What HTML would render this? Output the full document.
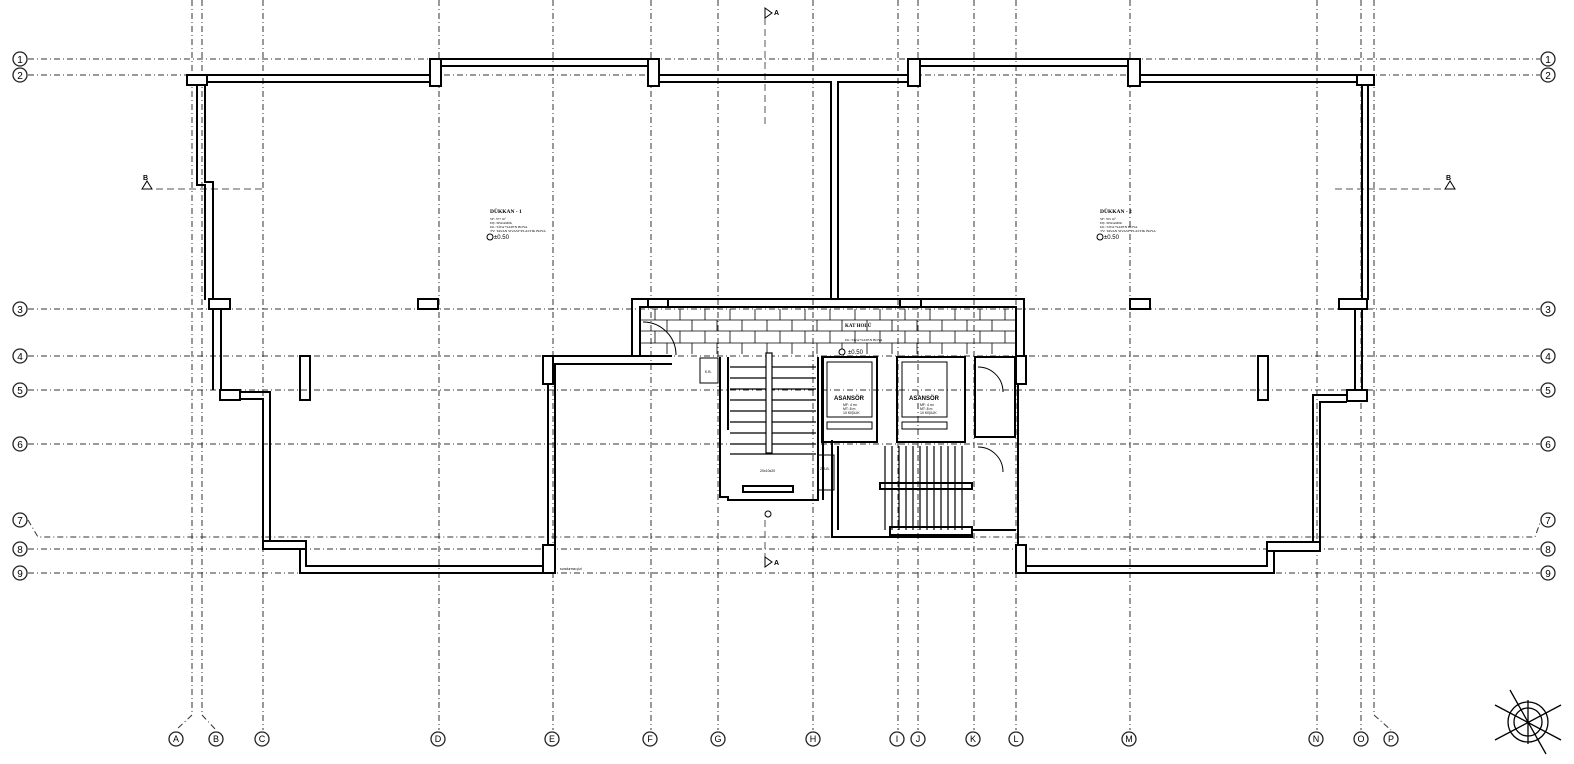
<!DOCTYPE html>
<html><head><meta charset="utf-8"><style>html,body{margin:0;padding:0;background:#fff}svg{display:block}</style></head><body>
<svg width="1574" height="764" viewBox="0 0 1574 764" xmlns="http://www.w3.org/2000/svg" font-family="Liberation Sans, sans-serif">
<g stroke="#333" stroke-width="1" stroke-dasharray="6,3,1,3" fill="none">
<!-- vertical grids -->
<path d="M192 0V715L176 730"/><path d="M202 0V715L216 730"/>
<path d="M263 0V730"/><path d="M439 0V730"/><path d="M553 0V730"/><path d="M651 0V730"/>
<path d="M718 0V730"/><path d="M813 0V730"/><path d="M898 0V730"/><path d="M918 0V730"/>
<path d="M974 0V730"/><path d="M1016 0V730"/><path d="M1130 0V730"/><path d="M1317 0V730"/>
<path d="M1361 0V715L1361 730"/><path d="M1374 0V715L1391 730"/>
<!-- horizontal grids -->
<path d="M28 59H1540"/><path d="M28 75H1540"/><path d="M28 309H1540"/><path d="M28 356H1540"/>
<path d="M28 390H1540"/><path d="M28 444H1540"/><path d="M28 520L38 537H1535L1541 520"/>
<path d="M28 549H1540"/><path d="M28 573H1540"/>
</g>
<g stroke="#555" stroke-width="1" stroke-dasharray="7,4" fill="none">
<path d="M145 189H262"/><path d="M1335 189H1455"/><path d="M765 18V128"/><path d="M765 520V560"/>
</g>
<!-- bubbles -->
<g font-size="10" text-anchor="middle" fill="#000">
<g stroke="#222" fill="#fff" stroke-width="1.3">
<circle cx="20" cy="59" r="7"/><circle cx="20" cy="75" r="7"/><circle cx="20" cy="309" r="7"/><circle cx="20" cy="356" r="7"/><circle cx="20" cy="390" r="7"/><circle cx="20" cy="444" r="7"/><circle cx="20" cy="520" r="7"/><circle cx="20" cy="549" r="7"/><circle cx="20" cy="573" r="7"/>
<circle cx="1548" cy="59" r="7"/><circle cx="1548" cy="75" r="7"/><circle cx="1548" cy="309" r="7"/><circle cx="1548" cy="356" r="7"/><circle cx="1548" cy="390" r="7"/><circle cx="1548" cy="444" r="7"/><circle cx="1548" cy="520" r="7"/><circle cx="1548" cy="549" r="7"/><circle cx="1548" cy="573" r="7"/>
<circle cx="176" cy="739" r="7"/><circle cx="216" cy="739" r="7"/><circle cx="262" cy="739" r="7"/><circle cx="438" cy="739" r="7"/><circle cx="552" cy="739" r="7"/><circle cx="650" cy="739" r="7"/><circle cx="718" cy="739" r="7"/><circle cx="813" cy="739" r="7"/><circle cx="897" cy="739" r="7"/><circle cx="918" cy="739" r="7"/><circle cx="973" cy="739" r="7"/><circle cx="1016" cy="739" r="7"/><circle cx="1129" cy="739" r="7"/><circle cx="1316" cy="739" r="7"/><circle cx="1361" cy="739" r="7"/><circle cx="1391" cy="739" r="7"/>
</g>
<text x="20" y="63">1</text><text x="20" y="79">2</text><text x="20" y="313">3</text><text x="20" y="360">4</text><text x="20" y="394">5</text><text x="20" y="448">6</text><text x="20" y="524">7</text><text x="20" y="553">8</text><text x="20" y="577">9</text>
<text x="1548" y="63">1</text><text x="1548" y="79">2</text><text x="1548" y="313">3</text><text x="1548" y="360">4</text><text x="1548" y="394">5</text><text x="1548" y="448">6</text><text x="1548" y="524">7</text><text x="1548" y="553">8</text><text x="1548" y="577">9</text>
<g font-size="9"><text x="176" y="742">A</text><text x="216" y="742">B</text><text x="262" y="742">C</text><text x="438" y="742">D</text><text x="552" y="742">E</text><text x="650" y="742">F</text><text x="718" y="742">G</text><text x="813" y="742">H</text><text x="897" y="742">I</text><text x="918" y="742">J</text><text x="973" y="742">K</text><text x="1016" y="742">L</text><text x="1129" y="742">M</text><text x="1316" y="742">N</text><text x="1361" y="742">O</text><text x="1391" y="742">P</text></g>
</g>
<!-- walls -->
<g stroke="#000" stroke-width="2" fill="none">
<path d="M187 75H430V59H657V75H912V59H1139V75H1373"/>
<path d="M207 82H432V66H655V82H831V300"/><path d="M838 300V82H914V66H1137V82H1360"/>
<rect x="187" y="75" width="20" height="10" fill="#fff"/><rect x="430" y="59" width="11" height="27" fill="#fff"/><rect x="648" y="59" width="11" height="27" fill="#fff"/><rect x="908" y="59" width="12" height="27" fill="#fff"/><rect x="1128" y="59" width="12" height="27" fill="#fff"/><rect x="1357" y="75" width="17" height="10" fill="#fff"/>
<!-- left wall -->
<path d="M197 85V185H205V300"/><path d="M205 85V182H213V300"/>
<rect x="209" y="299" width="21" height="10" fill="#fff"/>
<path d="M213 309V390"/><path d="M221 309V390"/>
<rect x="220" y="390" width="20" height="10" fill="#fff"/>
<path d="M240 392H270V542"/><path d="M240 399H263V542"/>
<rect x="263" y="541" width="43" height="8" fill="#fff"/>
<path d="M300 549V573H555"/><path d="M306 549V566H548"/>
<!-- right wall -->
<path d="M1362 85V300"/><path d="M1368 85V300"/>
<rect x="1339" y="299" width="28" height="10" fill="#fff"/>
<path d="M1355 309V390"/><path d="M1362 309V390"/>
<rect x="1347" y="390" width="20" height="11" fill="#fff"/>
<path d="M1347 395H1313V545"/><path d="M1347 402H1320V545"/>
<rect x="1267" y="542" width="53" height="9" fill="#fff"/>
<path d="M1267 551V566H1025"/><path d="M1274 551V573H1018"/>
<!-- columns -->
<rect x="418" y="299" width="20" height="10"/><rect x="1130" y="299" width="20" height="10"/>
<rect x="300" y="356" width="10" height="44"/><rect x="1258" y="356" width="10" height="44"/>
<!-- core -->
<path d="M632 355V299H1024V355"/><path d="M640 355V307H1016V355"/>
<rect x="648" y="299" width="20" height="8" fill="#fff"/><rect x="900" y="299" width="21" height="8" fill="#fff"/>
<path d="M553 356H672M553 364H672"/>
<rect x="543" y="356" width="10" height="28" fill="#fff"/>
<path d="M548 384V545M555 364V545"/>
<rect x="543" y="545" width="12" height="28" fill="#fff"/>
<rect x="1016" y="356" width="10" height="28" fill="#fff"/>
<path d="M1018 384V545"/>
<rect x="1016" y="545" width="10" height="28" fill="#fff"/>
<path d="M720 357V497H728V500H818V357"/>
<path d="M728 357V430"/>
<path d="M818 357V497M823 357V500"/>
<path d="M832 440V537H972V530H1016"/><path d="M838 446V530"/>
<rect x="822" y="357" width="55" height="85"/><rect x="897" y="357" width="68" height="85"/>
<rect x="975" y="357" width="40" height="80"/>
<rect x="743" y="486" width="50" height="6"/><rect x="880" y="483" width="92" height="6"/><rect x="890" y="527" width="82" height="8"/>
</g>
<!-- brick -->
<g stroke="#000" stroke-width="0.8">
<path d="M640 320H1016M640 331H1016M640 343H1016"/>
<path d="M655 309V320M680 309V320M705 309V320M730 309V320M755 309V320M780 309V320M805 309V320M830 309V320M855 309V320M880 309V320M905 309V320M930 309V320M955 309V320M980 309V320M1005 309V320"/>
<path d="M667 320V331M692 320V331M717 320V331M742 320V331M767 320V331M792 320V331M817 320V331M842 320V331M867 320V331M892 320V331M917 320V331M942 320V331M967 320V331M992 320V331"/>
<path d="M655 331V343M680 331V343M705 331V343M730 331V343M755 331V343M780 331V343M805 331V343M830 331V343M855 331V343M880 331V343M905 331V343M930 331V343M955 331V343M980 331V343M1005 331V343"/>
<path d="M667 343V354M692 343V354M717 343V354M742 343V354M767 343V354M792 343V354M817 343V354M842 343V354M867 343V354M892 343V354M917 343V354M942 343V354M967 343V354M992 343V354"/>
</g>
<!-- stairs -->
<g stroke="#000" stroke-width="1.2">
<path d="M730 367H816M730 378H816M730 389H816M730 400H816M730 411H816M730 422H816M730 433H816M730 444H816M730 454H816"/>
<path d="M885 446V530M892 446V530M899 446V530M906 446V530M913 446V530M920 446V530M927 446V530M934 446V530M941 446V530M948 446V530M955 446V530M962 446V530"/>
<rect x="766" y="353" width="6" height="100" fill="#fff"/>
</g>
<g stroke="#000" stroke-width="1" fill="none">
<rect x="827" y="362" width="45" height="55"/><rect x="902" y="362" width="45" height="55"/>
<rect x="827" y="422" width="45" height="7"/><rect x="902" y="422" width="45" height="7"/>
<rect x="700" y="358" width="18" height="25"/><rect x="818" y="455" width="16" height="35"/>
<path d="M978 367A25 25 0 0 1 1003 392"/><path d="M978 447A25 25 0 0 1 1003 472"/><path d="M643 322A33 33 0 0 1 676 355"/>
<circle cx="768" cy="514" r="3"/>
</g>
<!-- labels -->
<g fill="#000" font-family="Liberation Serif, serif">
<text x="490" y="213" font-size="5.5" font-weight="bold">DÜKKAN - 1</text>
<text x="490" y="220" font-size="3.5">SF: 377 m²</text><text x="490" y="224" font-size="3.5">DŞ: SERAMİK</text><text x="490" y="228" font-size="3.5">DL: SİVA+SATEN BOYA</text><text x="490" y="232" font-size="3.5">TV: TAVAN SIVASI+PLASTİK BOYA</text>
<text x="494" y="239" font-size="6" font-family="Liberation Sans">±0.50</text>
<text x="1100" y="213" font-size="5.5" font-weight="bold">DÜKKAN - 2</text>
<text x="1100" y="220" font-size="3.5">SF: 355 m²</text><text x="1100" y="224" font-size="3.5">DŞ: SERAMİK</text><text x="1100" y="228" font-size="3.5">DL: SİVA+SATEN BOYA</text><text x="1100" y="232" font-size="3.5">TV: TAVAN SIVASI+PLASTİK BOYA</text>
<text x="1104" y="239" font-size="6" font-family="Liberation Sans">±0.50</text>
<text x="845" y="327" font-size="5" font-weight="bold">KAT HOLÜ</text>
<text x="845" y="341" font-size="3.5">DL: SİVA+SATEN BOYA</text>
<text x="848" y="354" font-size="6" font-family="Liberation Sans">±0.50</text>
</g>
<g fill="#000" font-size="6" font-weight="bold" text-anchor="middle">
<text x="849" y="400">ASANSÖR</text><text x="924" y="400">ASANSÖR</text>
</g>
<g fill="#000" font-size="3.5">
<text x="843" y="406">MF: 4 m²</text><text x="843" y="410">MT: 8 m</text><text x="843" y="414">10 KİŞİLİK</text>
<text x="920" y="406">MF: 4 m²</text><text x="920" y="410">MT: 8 m</text><text x="920" y="414">10 KİŞİLİK</text>
<text x="705" y="373">K.B.</text><text x="820" y="470">Z.A.B.</text><text x="760" y="472">20x10x20</text><text x="560" y="570">sundurma çizi</text>
</g>
<!-- markers -->
<g fill="#fff" stroke="#000" stroke-width="1">
<path d="M142 189L147 181L152 189Z"/><path d="M1445 189L1450 181L1455 189Z"/>
<path d="M765 8L772 13L765 18Z"/><path d="M765 557L772 562L765 567Z"/>
<circle cx="490" cy="237" r="3"/><circle cx="1100" cy="237" r="3"/><circle cx="842" cy="352" r="3"/>
</g>
<g font-size="7" font-weight="bold" fill="#000"><text x="143" y="180">B</text><text x="1446" y="180">B</text><text x="774" y="15">A</text><text x="774" y="565">A</text></g>
<!-- north arrow -->
<g stroke="#000" fill="none" stroke-width="1.3">
<circle cx="1528" cy="722" r="20"/><circle cx="1528" cy="722" r="14"/>
<path d="M1495 705L1561 740M1510 690L1546 754M1495 740L1561 705M1528 700V744"/>
</g>
</svg>
</body></html>
